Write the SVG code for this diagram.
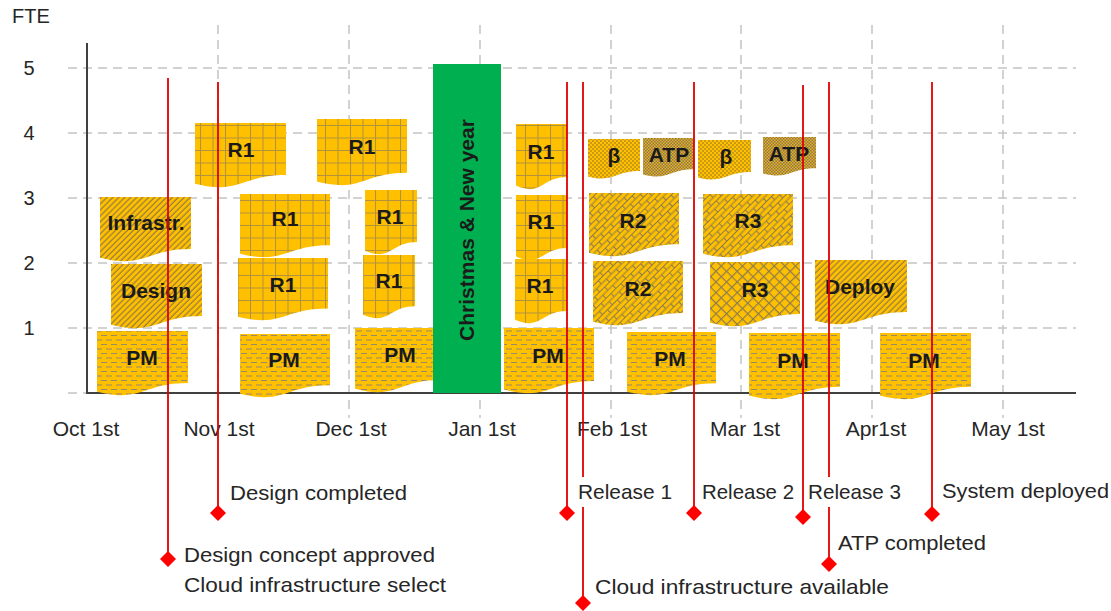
<svg xmlns="http://www.w3.org/2000/svg" width="1111" height="611" viewBox="0 0 1111 611">
  <style>
    .grid { stroke: #c4c4c4; stroke-width: 1.5; stroke-dasharray: 9 6; fill: none; }
    .axis { stroke: #404040; stroke-width: 2; fill: none; }
    .tick { font-family: "Liberation Sans", Arial, sans-serif; font-size: 20px; fill: #262626; }
    .month { font-family: "Liberation Sans", Arial, sans-serif; font-size: 21px; fill: #262626; text-anchor: middle; }
    .note { font-family: "Liberation Sans", Arial, sans-serif; font-size: 21px; fill: #262626; }
    .lbl { font-family: "Liberation Sans", Arial, sans-serif; font-size: 21px; font-weight: bold; fill: #1a1a1a; text-anchor: middle; }
    .ms { stroke: #e00000; stroke-width: 1.8; fill: none; }
    .dia { fill: #ff0000; }
  </style>
  <defs>
    <!-- dashed rows (PM) -->
    <pattern id="pDash" width="10" height="9" patternUnits="userSpaceOnUse">
      <rect width="10" height="9" fill="#FFC000"/>
      <path d="M1 2.5h6M6 7h4M0 7h2" stroke="#958a6c" stroke-width="1.2"/>
    </pattern>
    <!-- large grid (R1) -->
    <pattern id="pGrid" width="12.5" height="12.5" patternUnits="userSpaceOnUse">
      <rect width="12.5" height="12.5" fill="#FFC000"/>
      <path d="M0 0.5H12.5M0.5 0V12.5" stroke="#b0913f" stroke-width="1"/>
    </pattern>
    <!-- diagonal brick (R2, R3) -->
    <pattern id="pBrick" width="14" height="9" patternUnits="userSpaceOnUse" patternTransform="rotate(-45)">
      <rect width="14" height="9" fill="#FFC000"/>
      <path d="M0 0.5H14M0 5H14M0.5 0.5V5M7.5 5V9.5" stroke="#8c7c52" stroke-width="1.1"/>
    </pattern>
    <!-- trellis (R3 lower) -->
    <pattern id="pTrellis" width="7.5" height="7.5" patternUnits="userSpaceOnUse" patternTransform="rotate(45)">
      <rect width="7.5" height="7.5" fill="#FFC000"/>
      <path d="M0 0.5H7.5M0.5 0V7.5" stroke="#8c7c52" stroke-width="1.4"/>
    </pattern>
    <!-- upward diagonal hatch (Infrastr., Design, Deploy) -->
    <pattern id="pHatch" width="4.2" height="4.2" patternUnits="userSpaceOnUse" patternTransform="rotate(45)">
      <rect width="4.2" height="4.2" fill="#FFC000"/>
      <path d="M1 0V4.2" stroke="#8c7448" stroke-width="1.1"/>
    </pattern>
    <!-- dots (beta) -->
    <pattern id="pDots" width="4" height="4" patternUnits="userSpaceOnUse">
      <rect width="4" height="4" fill="#FFC000"/>
      <circle cx="1" cy="1" r="0.8" fill="#8a6c34"/>
      <circle cx="3" cy="3" r="0.8" fill="#8a6c34"/>
    </pattern>
    <!-- dense checker (ATP) -->
    <pattern id="pCheck" width="3" height="3" patternUnits="userSpaceOnUse">
      <rect width="3" height="3" fill="#E6B020"/>
      <rect x="0" y="0" width="1.5" height="1.5" fill="#8e7a50"/>
      <rect x="1.5" y="1.5" width="1.5" height="1.5" fill="#8e7a50"/>
    </pattern>
  </defs>

  <!-- axis titles and value labels -->
  <g id="y-axis-labels">
    <text class="tick" x="12" y="23" font-size="18">FTE</text>
    <text class="tick" x="29" y="75" text-anchor="middle">5</text>
    <text class="tick" x="29" y="140" text-anchor="middle">4</text>
    <text class="tick" x="29" y="205" text-anchor="middle">3</text>
    <text class="tick" x="29" y="270" text-anchor="middle">2</text>
    <text class="tick" x="29" y="335" text-anchor="middle">1</text>
  </g>

  <!-- gridlines -->
  <g id="gridlines">
    <path class="grid" d="M68 68H1076M68 133H1076M68 198H1076M68 263H1076M68 328H1076M68 393H87"/>
    <path class="grid" d="M218 25V418M349 25V418M480 25V418M611 25V418M741 25V418M872 25V418M1003 25V418"/>
  </g>

  <!-- axes -->
  <g id="axes">
    <path class="axis" d="M87 43V393H1076"/>
  </g>

  <g id="month-labels">
    <text class="month" x="86" y="436">Oct 1st</text>
    <text class="month" x="219" y="436">Nov 1st</text>
    <text class="month" x="351" y="436">Dec 1st</text>
    <text class="month" x="482" y="436">Jan 1st</text>
    <text class="month" x="612" y="436">Feb 1st</text>
    <text class="month" x="745" y="436">Mar 1st</text>
    <text class="month" x="876" y="436">Apr1st</text>
    <text class="month" x="1008" y="436">May 1st</text>
  </g>

  <!-- October -->
  <g id="infrastr-oct">
    <path fill="url(#pHatch)" d="M100 197H191V249.1C145.5 249.1 145.5 269 100 257.7Z"/>
    <text class="lbl" x="146" y="230">Infrastr.</text>
  </g>
  <g id="design-oct">
    <path fill="url(#pHatch)" d="M111 264H202V316.1C156.5 316.1 156.5 336 111 324.7Z"/>
    <text class="lbl" x="156" y="298">Design</text>
  </g>
  <g id="pm-oct">
    <path fill="url(#pDash)" d="M97 331H188V383.1C142.5 383.1 142.5 403 97 391.7Z"/>
    <text class="lbl" x="142" y="365">PM</text>
  </g>

  <!-- November -->
  <g id="r1-nov-a">
    <path fill="url(#pGrid)" d="M195 123H286V175.1C240.5 175.1 240.5 195 195 183.7Z"/>
    <text class="lbl" x="241" y="157">R1</text>
  </g>
  <g id="r1-nov-b">
    <path fill="url(#pGrid)" d="M240 194H330V245.3C285 245.3 285 264.9 240 253.8Z"/>
    <text class="lbl" x="285" y="226">R1</text>
  </g>
  <g id="r1-nov-c">
    <path fill="url(#pGrid)" d="M238 258H328V308.5C283 308.5 283 327.8 238 316.8Z"/>
    <text class="lbl" x="283" y="292">R1</text>
  </g>
  <g id="pm-nov">
    <path fill="url(#pDash)" d="M240 334H330V385.3C285 385.3 285 404.9 240 393.8Z"/>
    <text class="lbl" x="284" y="367">PM</text>
  </g>

  <!-- December -->
  <g id="r1-dec-a">
    <path fill="url(#pGrid)" d="M317 119H407V172.7C362 172.7 362 193.2 317 181.6Z"/>
    <text class="lbl" x="362" y="154">R1</text>
  </g>
  <g id="r1-dec-b">
    <path fill="url(#pGrid)" d="M365 190H417V242.1C391 242.1 391 262 365 250.7Z"/>
    <text class="lbl" x="390" y="224">R1</text>
  </g>
  <g id="r1-dec-c">
    <path fill="url(#pGrid)" d="M363 255H415V306.3C389 306.3 389 325.9 363 314.8Z"/>
    <text class="lbl" x="389" y="288">R1</text>
  </g>
  <g id="pm-dec">
    <path fill="url(#pDash)" d="M355 328H440V380.1C397.5 380.1 397.5 400 355 388.7Z"/>
    <text class="lbl" x="400" y="362">PM</text>
  </g>

  <!-- holiday break -->
  <g id="christmas">
    <rect x="433" y="64" width="68" height="329" fill="#00B050"/>
    <text class="lbl" transform="translate(474 230) rotate(-90)" font-size="20">Christmas &amp; New year</text>
  </g>

  <!-- January -->
  <g id="r1-jan-a">
    <path fill="url(#pGrid)" d="M516 124H567V176.9C541.5 176.9 541.5 197.1 516 185.6Z"/>
    <text class="lbl" x="541" y="159">R1</text>
  </g>
  <g id="r1-jan-b">
    <path fill="url(#pGrid)" d="M516 195H567V247.9C541.5 247.9 541.5 268.1 516 256.6Z"/>
    <text class="lbl" x="541" y="229">R1</text>
  </g>
  <g id="r1-jan-c">
    <path fill="url(#pGrid)" d="M515 259H567V311.1C541 311.1 541 331 515 319.7Z"/>
    <text class="lbl" x="540" y="293">R1</text>
  </g>
  <g id="pm-jan">
    <path fill="url(#pDash)" d="M504 328H594V380.9C549 380.9 549 401.1 504 389.6Z"/>
    <text class="lbl" x="548" y="363">PM</text>
  </g>

  <!-- February / March releases -->
  <g id="beta-1">
    <path fill="url(#pDots)" d="M588 139H640V171.1C614 171.1 614 183.3 588 176.4Z"/>
    <text class="lbl" x="614" y="163">β</text>
  </g>
  <g id="atp-1">
    <path fill="url(#pCheck)" d="M643 138H694V169.3C668.5 169.3 668.5 181.2 643 174.4Z"/>
    <text class="lbl" x="669" y="162">ATP</text>
  </g>
  <g id="beta-2">
    <path fill="url(#pDots)" d="M698 140H751V172.1C724.5 172.1 724.5 184.3 698 177.4Z"/>
    <text class="lbl" x="726" y="164">β</text>
  </g>
  <g id="atp-2">
    <path fill="url(#pCheck)" d="M763 137H816V168.3C789.5 168.3 789.5 180.2 763 173.4Z"/>
    <text class="lbl" x="789" y="161">ATP</text>
  </g>
  <g id="r2-a">
    <path fill="url(#pBrick)" d="M589 193H679V244.3C634 244.3 634 263.9 589 252.8Z"/>
    <text class="lbl" x="633" y="228">R2</text>
  </g>
  <g id="r3-a">
    <path fill="url(#pBrick)" d="M703 194H793V245.3C748 245.3 748 264.9 703 253.8Z"/>
    <text class="lbl" x="748" y="228">R3</text>
  </g>
  <g id="r2-b">
    <path fill="url(#pBrick)" d="M593 261H683V313.1C638 313.1 638 333 593 321.7Z"/>
    <text class="lbl" x="638" y="296">R2</text>
  </g>
  <g id="r3-b">
    <path fill="url(#pTrellis)" d="M710 262H800V314.1C755 314.1 755 334 710 322.7Z"/>
    <text class="lbl" x="755" y="297">R3</text>
  </g>
  <g id="pm-feb">
    <path fill="url(#pDash)" d="M627 332H716V383.3C671.5 383.3 671.5 402.9 627 391.8Z"/>
    <text class="lbl" x="670" y="366">PM</text>
  </g>
  <g id="pm-mar">
    <path fill="url(#pDash)" d="M749 333H840V386.7C794.5 386.7 794.5 407.2 749 395.6Z"/>
    <text class="lbl" x="793" y="368">PM</text>
  </g>
  <g id="deploy">
    <path fill="url(#pHatch)" d="M815 260H907V312.1C861 312.1 861 332 815 320.7Z"/>
    <text class="lbl" x="860" y="294">Deploy</text>
  </g>
  <g id="pm-apr">
    <path fill="url(#pDash)" d="M880 333H971V386.7C925.5 386.7 925.5 407.2 880 395.6Z"/>
    <text class="lbl" x="924" y="368">PM</text>
  </g>

  <!-- milestone markers -->
  <g id="milestone-lines">
    <path class="ms" d="M168 78V559M218 82V513M567 82V513M583 82V477M583 507V603M694 82V513M803 85V517M829 82V477M829 507V564M932 82V514"/>
    <path class="dia" d="M168 551l8 8-8 8-8-8Z"/>
    <path class="dia" d="M218 505l8 8-8 8-8-8Z"/>
    <path class="dia" d="M567 505l8 8-8 8-8-8Z"/>
    <path class="dia" d="M583 595l8 8-8 8-8-8Z"/>
    <path class="dia" d="M694 505l8 8-8 8-8-8Z"/>
    <path class="dia" d="M803 509l8 8-8 8-8-8Z"/>
    <path class="dia" d="M829 556l8 8-8 8-8-8Z"/>
    <path class="dia" d="M932 506l8 8-8 8-8-8Z"/>
  </g>

  <g id="milestone-labels">
    <text class="note" x="230" y="500" textLength="177" lengthAdjust="spacingAndGlyphs">Design completed</text>
    <text class="note" x="184" y="562" textLength="251" lengthAdjust="spacingAndGlyphs">Design concept approved</text>
    <text class="note" x="184" y="592" textLength="262" lengthAdjust="spacingAndGlyphs">Cloud infrastructure select</text>
    <text class="note" x="578" y="499" textLength="94" lengthAdjust="spacingAndGlyphs">Release 1</text>
    <text class="note" x="702" y="499" textLength="92" lengthAdjust="spacingAndGlyphs">Release 2</text>
    <text class="note" x="808" y="499" textLength="93" lengthAdjust="spacingAndGlyphs">Release 3</text>
    <text class="note" x="942" y="498" textLength="167" lengthAdjust="spacingAndGlyphs">System deployed</text>
    <text class="note" x="838" y="550" textLength="148" lengthAdjust="spacingAndGlyphs">ATP completed</text>
    <text class="note" x="595" y="594" textLength="294" lengthAdjust="spacingAndGlyphs">Cloud infrastructure available</text>
  </g>
</svg>
